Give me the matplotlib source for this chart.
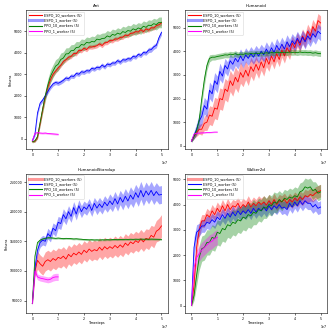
import numpy as np
import matplotlib
matplotlib.use("Agg")
import matplotlib.pyplot as plt
from matplotlib.lines import Line2D

# timesteps grid for the long runs (0 .. 5e7) and the short PPO_1_worker run (0 .. 1e7)
STEPS = [i * 1e6 for i in range(51)]
STEPS_SHORT = [i * 1e6 for i in range(11)]

LABELS = ["ESPO_10_workers (5)", "ESPO_1_worker (5)", "PPO_10_workers (5)", "PPO_1_worker (5)"]
COLORS = ["red", "blue", "green", "magenta"]

# ---- Ant ----
ant_espo10 = [-150, -120, 50, 700, 1350, 1950, 2400, 2750, 3000, 3150, 3300, 3420, 3600, 3680, 3800,
              3830, 3970, 3960, 4120, 4100, 4220, 4150, 4280, 4270, 4300, 4330, 4420, 4340, 4470, 4480,
              4580, 4560, 4650, 4640, 4720, 4730, 4830, 4800, 4910, 4920, 4990, 4970, 5080, 4990, 5120,
              5060, 5170, 5160, 5270, 5310, 5400]
ant_espo10_sd = [40, 40, 60, 100, 120, 120, 120, 120, 110, 110, 110, 100, 100, 100, 100, 100, 100, 100,
                 100, 100, 100, 100, 100, 100, 100, 100, 100, 100, 100, 100, 100, 100, 100, 100, 100, 100,
                 100, 100, 100, 100, 100, 100, 100, 100, 100, 100, 100, 100, 100, 100, 100]
ant_espo1 = [-100, 200, 1200, 1650, 1800, 2000, 2200, 2400, 2550, 2620, 2580, 2640, 2720, 2830, 2790,
             2920, 2900, 3040, 3000, 3120, 3090, 3170, 3150, 3280, 3240, 3330, 3300, 3430, 3340, 3480,
             3440, 3530, 3520, 3640, 3560, 3680, 3660, 3730, 3710, 3840, 3800, 3930, 3880, 4020, 3990,
             4130, 4150, 4280, 4350, 4700, 4950]
ant_espo1_sd = [40, 80, 120, 100, 100, 100, 100, 100, 100, 100, 100, 100, 100, 100, 100, 100, 100, 100,
                100, 100, 100, 100, 100, 100, 100, 100, 100, 100, 100, 100, 100, 100, 100, 100, 100, 100,
                100, 100, 100, 100, 100, 100, 100, 100, 100, 120, 120, 120, 120, 120, 120]
ant_ppo10 = [-150, -100, 100, 750, 1400, 2000, 2500, 2900, 3150, 3380, 3470, 3690, 3760, 3950, 3960,
             4100, 4110, 4250, 4260, 4390, 4360, 4490, 4460, 4530, 4510, 4640, 4610, 4670, 4680, 4790,
             4740, 4860, 4820, 4920, 4870, 4990, 4950, 5040, 5010, 5120, 5070, 5160, 5120, 5240, 5190,
             5290, 5270, 5360, 5320, 5420, 5420]
ant_ppo10_sd = [50, 60, 100, 150, 200, 250, 280, 300, 300, 300, 300, 300, 280, 280, 280, 280, 280, 280,
                260, 260, 260, 250, 250, 250, 250, 250, 250, 250, 250, 250, 250, 250, 250, 250, 250, 250,
                250, 250, 250, 250, 250, 250, 250, 250, 250, 250, 250, 250, 250, 250, 250]
ant_ppo1 = [-100, 250, 280, 260, 250, 260, 240, 230, 220, 210, 200]
ant_ppo1_sd = [20, 40, 40, 40, 40, 40, 40, 40, 40, 40, 40]

# ---- Humanoid ----
hum_espo10 = [200, 400, 550, 700, 700, 950, 1000, 1300, 1250, 1600, 1550, 2000, 1950, 2400, 2300,
              2750, 2550, 2900, 2700, 3100, 2900, 3200, 2950, 3350, 3150, 3450, 3200, 3550, 3300, 3700,
              3450, 3800, 3550, 3900, 3650, 4050, 3800, 4150, 3950, 4350, 4150, 4500, 4250, 4650, 4450,
              4850, 4650, 5050, 4850, 5300, 5200]
hum_espo10_sd = [50, 100, 150, 200, 250, 300, 350, 400, 400, 450, 450, 450, 450, 450, 450, 450, 450, 450,
                 450, 450, 400, 400, 400, 400, 400, 350, 350, 350, 350, 350, 300, 300, 300, 300, 300, 300,
                 300, 300, 300, 300, 300, 300, 300, 300, 300, 300, 300, 300, 300, 300, 300]
hum_espo1 = [200, 450, 700, 1050, 1250, 1700, 1550, 2350, 2200, 2750, 2600, 3150, 2950, 3400, 3250,
             3600, 3450, 3700, 3550, 3800, 3600, 3850, 3700, 3900, 3750, 3950, 3800, 4000, 3850, 4100,
             3900, 4150, 3950, 4250, 4050, 4300, 4100, 4400, 4200, 4450, 4300, 4550, 4350, 4600, 4400,
             4650, 4500, 4750, 4600, 4850, 4750]
hum_espo1_sd = [50, 150, 250, 300, 350, 350, 350, 350, 350, 350, 350, 350, 300, 300, 300, 300, 300, 300,
                300, 300, 300, 300, 300, 300, 300, 300, 300, 300, 300, 300, 300, 300, 300, 300, 300, 300,
                300, 300, 300, 300, 300, 300, 300, 300, 300, 300, 300, 300, 300, 300, 300]
hum_ppo10 = [200, 400, 650, 1100, 2000, 2800, 3400, 3700, 3750, 3750, 3780, 3800, 3820, 3850, 3840,
             3880, 3860, 3900, 3850, 3880, 3870, 3900, 3880, 3910, 3890, 3920, 3900, 3930, 3910, 3940,
             3920, 3950, 3930, 3960, 3940, 3950, 3960, 3940, 3970, 3950, 3960, 3940, 3970, 3950, 3960,
             3940, 3950, 3920, 3940, 3910, 3900]
hum_ppo10_sd = [50, 100, 150, 200, 250, 250, 200, 150, 120, 120, 120, 120, 120, 120, 120, 120, 120, 120,
                120, 120, 120, 120, 120, 120, 120, 120, 120, 120, 120, 120, 120, 120, 120, 120, 120, 120,
                120, 120, 120, 120, 120, 120, 120, 120, 120, 120, 120, 120, 120, 120, 120]
hum_ppo1 = [200, 500, 530, 540, 550, 550, 560, 560, 570, 580, 580]
hum_ppo1_sd = [20, 20, 20, 20, 20, 20, 20, 20, 20, 20, 20]

# ---- HumanoidStandup ----
hs_espo10 = [45000, 100000, 118000, 112000, 108000, 116000, 119000, 116000, 121000, 118000, 123000,
             121000, 125000, 120000, 128000, 124000, 130000, 127000, 132000, 128000, 135000, 131000,
             137000, 133000, 136000, 134000, 140000, 135000, 141000, 137000, 141000, 138000, 143000,
             139000, 144000, 140000, 147000, 143000, 149000, 146000, 151000, 148000, 154000, 149000,
             155000, 153000, 160000, 157000, 167000, 170000, 176000]
hs_espo10_sd = [3000, 10000, 15000, 15000, 15000, 16000, 16000, 16000, 16000, 16000, 16000, 16000,
                16000, 16000, 16000, 16000, 16000, 16000, 16000, 16000, 16000, 16000, 16000, 16000,
                16000, 16000, 16000, 16000, 16000, 16000, 16000, 16000, 16000, 16000, 16000, 16000,
                16000, 16000, 16000, 16000, 16000, 16000, 16000, 16000, 16000, 17000, 17000, 18000,
                18000, 19000, 19000]
hs_espo1 = [45000, 105000, 135000, 148000, 152000, 150000, 163000, 158000, 172000, 168000, 182000,
            180000, 195000, 188000, 200000, 192000, 207000, 196000, 210000, 200000, 208000, 204000,
            212000, 202000, 214000, 206000, 213000, 207000, 216000, 210000, 218000, 212000, 222000,
            213000, 224000, 216000, 226000, 218000, 228000, 221000, 232000, 224000, 236000, 225000,
            235000, 228000, 236000, 227000, 234000, 228000, 229000]
hs_espo1_sd = [3000, 8000, 8000, 8000, 8000, 8000, 9000, 9000, 9000, 10000, 10000, 10000, 10000,
               10000, 10000, 10000, 10000, 10000, 10000, 10000, 10000, 10000, 10000, 10000, 10000,
               11000, 11000, 11000, 11000, 11000, 12000, 12000, 12000, 12000, 12000, 13000, 13000,
               13000, 14000, 14000, 14000, 15000, 15000, 15000, 15000, 15000, 15000, 15000, 15000,
               15000, 15000]
hs_ppo10 = [45000, 125000, 148000, 152000, 154000, 155000, 156000, 156000, 155500, 155000, 155500,
            155000, 154500, 155000, 154800, 154500, 154000, 154300, 153800, 153500, 153000, 152800,
            152500, 152700, 152300, 152500, 152200, 152600, 152400, 152800, 152500, 152900, 153000,
            152800, 153200, 153000, 153400, 153200, 153500, 153300, 153600, 153400, 153800, 153500,
            153700, 153500, 153800, 153600, 153500, 153400, 153300]
hs_ppo10_sd = [1000, 3000, 2000, 1500, 1500, 1500, 1500, 1500, 1500, 1500, 1500, 1500, 1500, 1500,
               1500, 1500, 1500, 1500, 1500, 1500, 1500, 1500, 1500, 1500, 1500, 1500, 1500, 1500,
               1500, 1500, 1500, 1500, 1500, 1500, 1500, 1500, 1500, 1500, 1500, 1500, 1500, 1500,
               1500, 1500, 1500, 1500, 1500, 1500, 1500, 1500, 1500]
hs_ppo1 = [45000, 100000, 90000, 88000, 87000, 86000, 85000, 86000, 89000, 90000, 90000]
hs_ppo1_sd = [2000, 6000, 5000, 5000, 5000, 5000, 5000, 5000, 6000, 6000, 6000]

# ---- Walker2d ----
wk_espo10 = [0, 800, 2300, 3000, 3350, 3350, 3600, 3500, 3750, 3600, 3850, 3700, 3950, 3750, 4000,
             3800, 3950, 3900, 4050, 3850, 4000, 3900, 4100, 3900, 4050, 3950, 4100, 4000, 4100, 3980,
             4150, 4000, 4200, 4000, 4150, 4100, 4200, 4050, 4200, 4100, 4250, 4150, 4300, 4200, 4350,
             4300, 4400, 4350, 4450, 4500, 4550]
wk_espo10_sd = [50, 400, 400, 300, 250, 250, 250, 250, 250, 250, 250, 250, 250, 250, 250, 250, 250, 250,
                250, 250, 250, 250, 250, 250, 250, 250, 250, 250, 250, 250, 250, 250, 250, 250, 250, 250,
                250, 250, 250, 250, 250, 250, 250, 250, 250, 250, 250, 250, 250, 250, 250]
wk_espo1 = [0, 2300, 2900, 3000, 3150, 3150, 3300, 3250, 3400, 3300, 3500, 3400, 3600, 3450, 3650,
            3500, 3700, 3550, 3750, 3600, 3750, 3650, 3800, 3650, 3850, 3700, 3850, 3750, 3900, 3750,
            3950, 3800, 3950, 3850, 4000, 3850, 3900, 3800, 4050, 3900, 4100, 3950, 4150, 4000, 4150,
            4050, 4050, 3900, 4000, 3850, 3900]
wk_espo1_sd = [50, 400, 300, 250, 250, 250, 250, 250, 250, 250, 250, 250, 250, 250, 250, 250, 250, 250,
               250, 250, 250, 250, 250, 250, 250, 250, 250, 250, 250, 250, 250, 250, 250, 250, 250, 250,
               250, 250, 250, 250, 250, 250, 250, 250, 250, 250, 250, 250, 250, 250, 250]
wk_ppo10 = [0, 400, 1200, 1900, 2250, 2300, 2500, 2500, 2700, 2650, 2900, 2850, 3050, 3000, 3200, 3150,
            3300, 3250, 3400, 3350, 3500, 3450, 3600, 3550, 3700, 3650, 3800, 3750, 3900, 3850, 4000,
            3950, 4100, 4050, 4200, 4100, 4250, 4200, 4300, 4250, 4350, 4300, 4500, 4550, 4700, 4650,
            4700, 4550, 4600, 4450, 4500]
wk_ppo10_sd = [50, 200, 400, 500, 500, 500, 500, 500, 500, 500, 500, 500, 500, 500, 500, 500, 500, 500,
               500, 500, 500, 500, 500, 500, 500, 450, 450, 450, 450, 400, 400, 400, 400, 400, 350, 350,
               350, 350, 350, 350, 350, 350, 350, 350, 350, 350, 350, 350, 300, 300, 300]
wk_ppo1 = [0, 1500, 1900, 2050, 2200, 2300, 2400, 2500, 2550, 2650, 2700]
wk_ppo1_sd = [50, 300, 300, 300, 300, 300, 300, 300, 300, 300, 300]

PANELS = [
    ("Ant", [ant_espo10, ant_espo1, ant_ppo10, ant_ppo1],
     [ant_espo10_sd, ant_espo1_sd, ant_ppo10_sd, ant_ppo1_sd], (-500, 6000), [0, 1000, 2000, 3000, 4000, 5000], 1),
    ("Humanoid", [hum_espo10, hum_espo1, hum_ppo10, hum_ppo1],
     [hum_espo10_sd, hum_espo1_sd, hum_ppo10_sd, hum_ppo1_sd], (-150, 5750), [0, 1000, 2000, 3000, 4000, 5000], 1),
    ("HumanoidStandup", [hs_espo10, hs_espo1, hs_ppo10, hs_ppo1],
     [hs_espo10_sd, hs_espo1_sd, hs_ppo10_sd, hs_ppo1_sd], (29000, 264000),
     [50000, 100000, 150000, 200000, 250000], 0),
    ("Walker2d", [wk_espo10, wk_espo1, wk_ppo10, wk_ppo1],
     [wk_espo10_sd, wk_espo1_sd, wk_ppo10_sd, wk_ppo1_sd], (-300, 5220), [0, 1000, 2000, 3000, 4000, 5000], 0),
]

FS = 2.3
fig, axes = plt.subplots(2, 2, figsize=(3.32, 3.32), dpi=100)
fig.subplots_adjust(left=0.078, right=0.985, bottom=0.057, top=0.970, wspace=0.12, hspace=0.175)

for idx, (ax, (title, means, sds, ylim, yticks, pale)) in enumerate(zip(axes.flat, PANELS)):
    for k, (m, s) in enumerate(zip(means, sds)):
        x = np.array(STEPS if len(m) == 51 else STEPS_SHORT)
        m = np.array(m, dtype=float)
        s = np.array(s, dtype=float)
        ax.fill_between(x, m - s, m + s, color=COLORS[k], alpha=0.35, linewidth=0)
        ax.plot(x, m, color=COLORS[k], lw=0.6)

    ax.set_title(title, fontsize=FS + 0.6, pad=2)
    ax.set_xlim(-0.25e7, 5.25e7)
    ax.set_ylim(*ylim)
    ax.set_yticks(yticks)
    ax.set_xticks([0, 1e7, 2e7, 3e7, 4e7, 5e7])
    ax.tick_params(labelsize=FS, length=1.5, width=0.4, pad=1)
    ax.xaxis.get_offset_text().set_fontsize(FS)
    for sp in ax.spines.values():
        sp.set_linewidth(0.4)
    if idx % 2 == 0:
        ax.set_ylabel("Returns", fontsize=FS, labelpad=1)
    if idx >= 2:
        ax.set_xlabel("Timesteps", fontsize=FS, labelpad=0.5)

    handles = []
    for k in range(4):
        if k == pale:
            handles.append(Line2D([], [], color=COLORS[k], alpha=0.4, lw=2.2))
        else:
            handles.append(Line2D([], [], color=COLORS[k], lw=0.8))
    ax.legend(handles, LABELS, loc="upper left", fontsize=FS + 0.2, frameon=True,
              handlelength=3.5, borderpad=0.5, labelspacing=0.35, handletextpad=0.8,
              fancybox=True, framealpha=0.8, edgecolor="#cccccc").get_frame().set_linewidth(0.4)

fig.savefig("out.png", dpi=100, facecolor="white")
